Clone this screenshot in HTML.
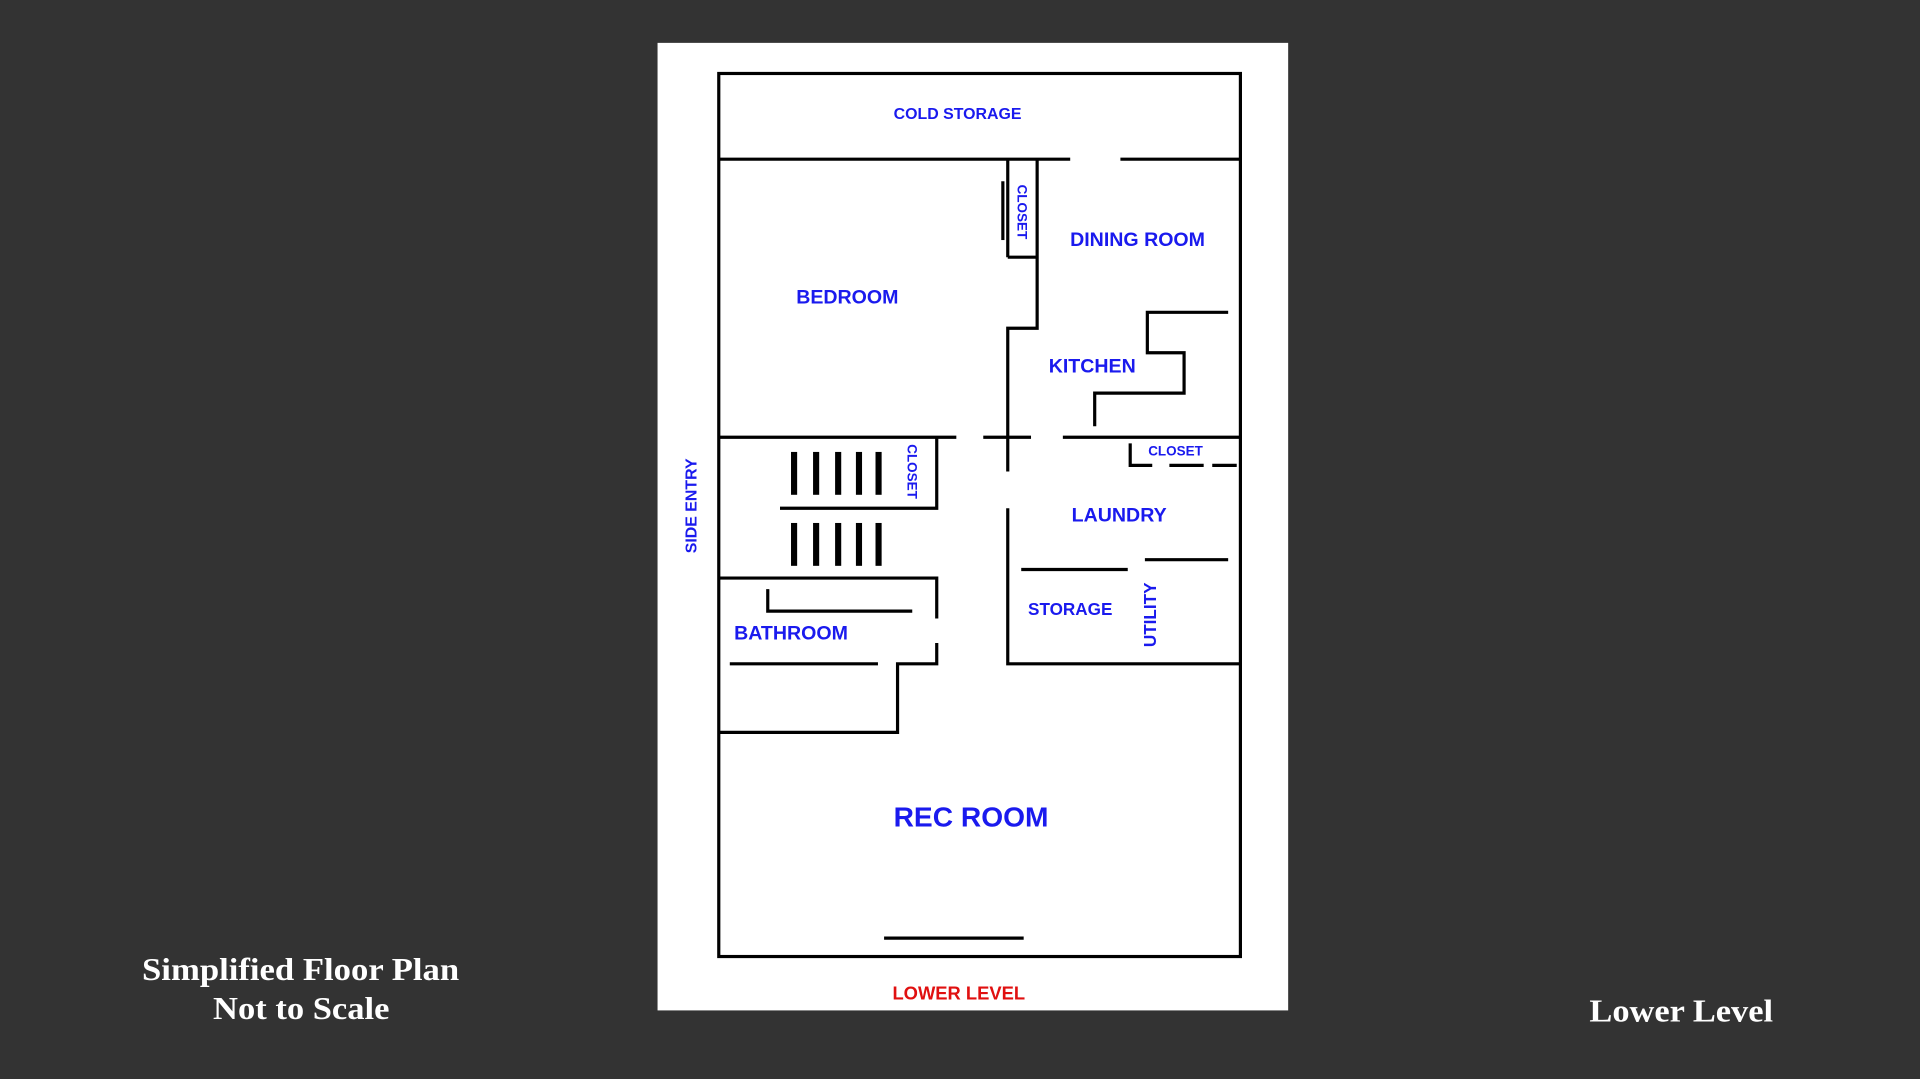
<!DOCTYPE html>
<html><head><meta charset="utf-8"><style>
html,body{margin:0;padding:0;background:#333333;}
svg{display:block;}
.l{fill:#1a1aee;font-family:"Liberation Sans",sans-serif;font-weight:bold;}
.w{fill:#ffffff;font-family:"Liberation Serif",serif;font-weight:bold;font-size:26px;}
</style></head><body>
<svg width="1920" height="1079" viewBox="0 0 1568 881" preserveAspectRatio="none" xmlns="http://www.w3.org/2000/svg">
<rect width="1568" height="881" fill="#333333"/>
<rect x="537" y="35" width="515" height="790" fill="#ffffff"/>
<g stroke="#000" stroke-width="2.6" fill="none">
<rect x="587" y="60" width="426" height="721"/>
<line x1="587" y1="130" x2="874" y2="130"/><line x1="915" y1="130" x2="1013" y2="130"/>
<line x1="823" y1="130" x2="823" y2="210"/><line x1="819" y1="148" x2="819" y2="196"/>
<polyline points="823,210 847,210"/>
<polyline points="847,130 847,268 823,268 823,385"/>
<line x1="587" y1="357" x2="781" y2="357"/><line x1="803" y1="357" x2="842" y2="357"/><line x1="868" y1="357" x2="1013" y2="357"/>
<polyline points="1003,255 937,255 937,288 967,288 967,321 894,321 894,348"/>
<polyline points="923,362 923,380 941,380"/><line x1="955" y1="380" x2="983" y2="380"/><line x1="990" y1="380" x2="1010" y2="380"/>
<polyline points="637,415 765,415 765,357"/>
<polyline points="823,415 823,542 1013,542"/>
<line x1="834" y1="465" x2="921" y2="465"/><line x1="935" y1="457" x2="1003" y2="457"/>
<polyline points="587,472 765,472 765,505"/>
<polyline points="765,525 765,542 733,542 733,598 587,598"/>
<polyline points="627,481 627,499 745,499"/>
<line x1="596" y1="542" x2="717" y2="542"/>
<line x1="722" y1="766" x2="836" y2="766"/>
</g>
<g fill="#000">
<rect x="646" y="369" width="5" height="35"/><rect x="664" y="369" width="5" height="35"/><rect x="682" y="369" width="5" height="35"/><rect x="699" y="369" width="5" height="35"/><rect x="715" y="369" width="5" height="35"/>
<rect x="646" y="427" width="5" height="35"/><rect x="664" y="427" width="5" height="35"/><rect x="682" y="427" width="5" height="35"/><rect x="699" y="427" width="5" height="35"/><rect x="715" y="427" width="5" height="35"/>
</g>
<text class="l" x="782" y="97" font-size="13" text-anchor="middle">COLD STORAGE</text>
<text class="l" x="929" y="201" font-size="16" text-anchor="middle">DINING ROOM</text>
<text class="l" x="692" y="248" font-size="16" text-anchor="middle">BEDROOM</text>
<text class="l" x="892" y="304" font-size="16" text-anchor="middle">KITCHEN</text>
<text class="l" x="914" y="426" font-size="16" text-anchor="middle">LAUNDRY</text>
<text class="l" x="874" y="502" font-size="14" text-anchor="middle">STORAGE</text>
<text class="l" x="646" y="522" font-size="16" text-anchor="middle">BATHROOM</text>
<text class="l" x="793" y="675" font-size="23" text-anchor="middle">REC ROOM</text>
<text class="l" x="960" y="372" font-size="11" text-anchor="middle">CLOSET</text>
<text x="783" y="816" font-size="15" text-anchor="middle" fill="#e01010" font-family="Liberation Sans,sans-serif" font-weight="bold">LOWER LEVEL</text>
<text class="l" font-size="11" text-anchor="middle" transform="translate(831,173) rotate(90)">CLOSET</text>
<text class="l" font-size="11" text-anchor="middle" transform="translate(741,385) rotate(90)">CLOSET</text>
<text class="l" font-size="13" text-anchor="middle" transform="translate(569,413) rotate(-90)">SIDE ENTRY</text>
<text class="l" font-size="14" text-anchor="middle" transform="translate(944,502) rotate(-90)">UTILITY</text>
<text class="w" x="116" y="800" textLength="259" lengthAdjust="spacingAndGlyphs">Simplified Floor Plan</text>
<text class="w" x="174" y="832" textLength="144" lengthAdjust="spacingAndGlyphs">Not to Scale</text>
<text class="w" x="1298" y="834" textLength="150" lengthAdjust="spacingAndGlyphs">Lower Level</text>
</svg>
</body></html>
